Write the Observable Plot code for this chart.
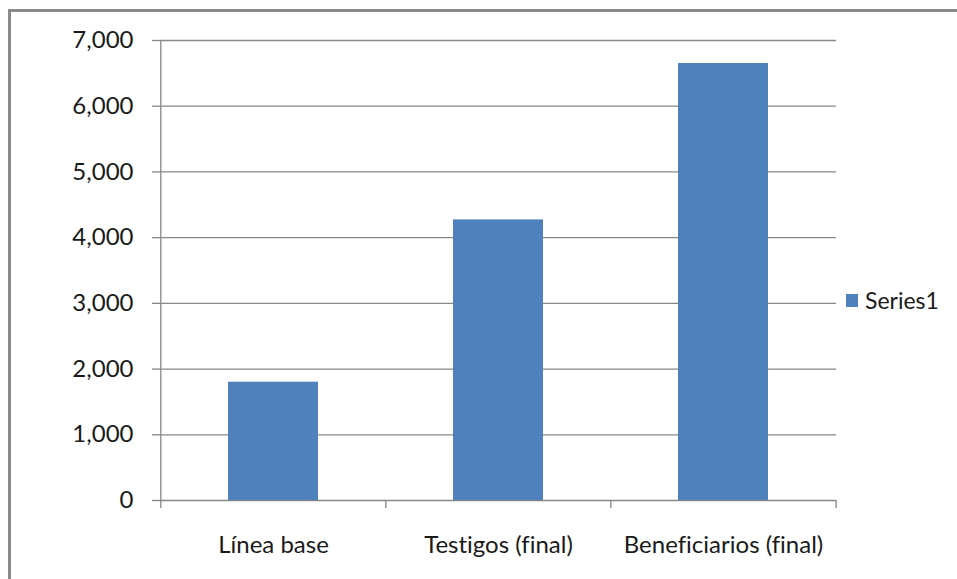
<!DOCTYPE html>
<html>
<head>
<meta charset="utf-8">
<script src="https://cdn.jsdelivr.net/npm/d3@7"></script>
<script src="https://cdn.jsdelivr.net/npm/@observablehq/plot@0.6"></script>
<style>
  html, body { margin: 0; padding: 0; background: #fff; }
  #wrap { position: relative; width: 957px; height: 579px; overflow: hidden; font-family: Lato, "Open Sans", sans-serif; font-variant-ligatures: none; }
  #frame { position: absolute; left: 8px; top: 9px; width: 1000px; height: 700px; border-top: 3px solid #8a8a8a; border-left: 3px solid #8a8a8a; box-sizing: border-box; }
  #chart { position: absolute; left: 0; top: 0; }
  #chart svg text { font-variant-ligatures: none; font-feature-settings: "liga" 0; }
  #legend { position: absolute; left: 846px; top: 286px; display: flex; align-items: center; font-size: 23px; color: #1a1a1a; }
  #legend .sw { width: 12px; height: 13px; background: #4F81BD; margin-right: 7px; }
</style>
</head>
<body>
<div id="wrap">
  <div id="frame"></div>
  <div id="chart"></div>
  <div id="legend"></div>
</div>
<script>
const categories = ["Línea base", "Testigos (final)", "Beneficiarios (final)"];
const values = [1800, 4270, 6650];
const yTicks = [0, 1000, 2000, 3000, 4000, 5000, 6000, 7000];
const seriesName = "Series1";

const data = categories.map((c, i) => ({category: c, value: values[i]}));

const W = 957, H = 579, mL = 160, mR = 121, mT = 40, mB = 79;
const step = (W - mL - mR) / categories.length;
const gridColor = "#878787";
const textColor = "#1a1a1a";

const plot = Plot.plot({
  width: W,
  height: H,
  marginLeft: mL,
  marginRight: mR,
  marginTop: mT,
  marginBottom: mB,
  style: {fontFamily: "Lato, 'Open Sans', sans-serif", fontSize: "24px", color: textColor, background: "transparent"},
  x: {domain: categories, paddingInner: 0.6, paddingOuter: 0.3, label: null},
  y: {domain: [0, 7000], label: null},
  marks: [
    Plot.ruleY(yTicks, {stroke: gridColor, strokeWidth: 1.3}),
    Plot.ruleX([0], {x: () => categories[0], dx: -step / 2, y1: 0, y2: 7000, stroke: gridColor, strokeWidth: 1.3}),
    Plot.barY(data, {x: "category", y: "value", fill: "#4F81BD"}),
    Plot.axisY({ticks: yTicks, tickSize: 8, tickPadding: 19, stroke: gridColor, strokeWidth: 1.3, tickFormat: d3.format(","), fill: textColor, label: null}),
    Plot.axisX({ticks: categories, tickSize: 0, tickPadding: 35, fill: textColor, label: null}),
    Plot.axisX({ticks: categories, tickSize: 8, dx: -step / 2, text: null, stroke: gridColor, strokeWidth: 1.3, label: null}),
    Plot.axisX({ticks: [categories[categories.length - 1]], tickSize: 8, dx: step / 2, text: null, stroke: gridColor, strokeWidth: 1.3, label: null})
  ]
});
document.getElementById("chart").appendChild(plot);

const legend = document.getElementById("legend");
const sw = document.createElement("div"); sw.className = "sw";
const lab = document.createElement("span"); lab.textContent = seriesName;
legend.appendChild(sw); legend.appendChild(lab);
</script>
</body>
</html>
